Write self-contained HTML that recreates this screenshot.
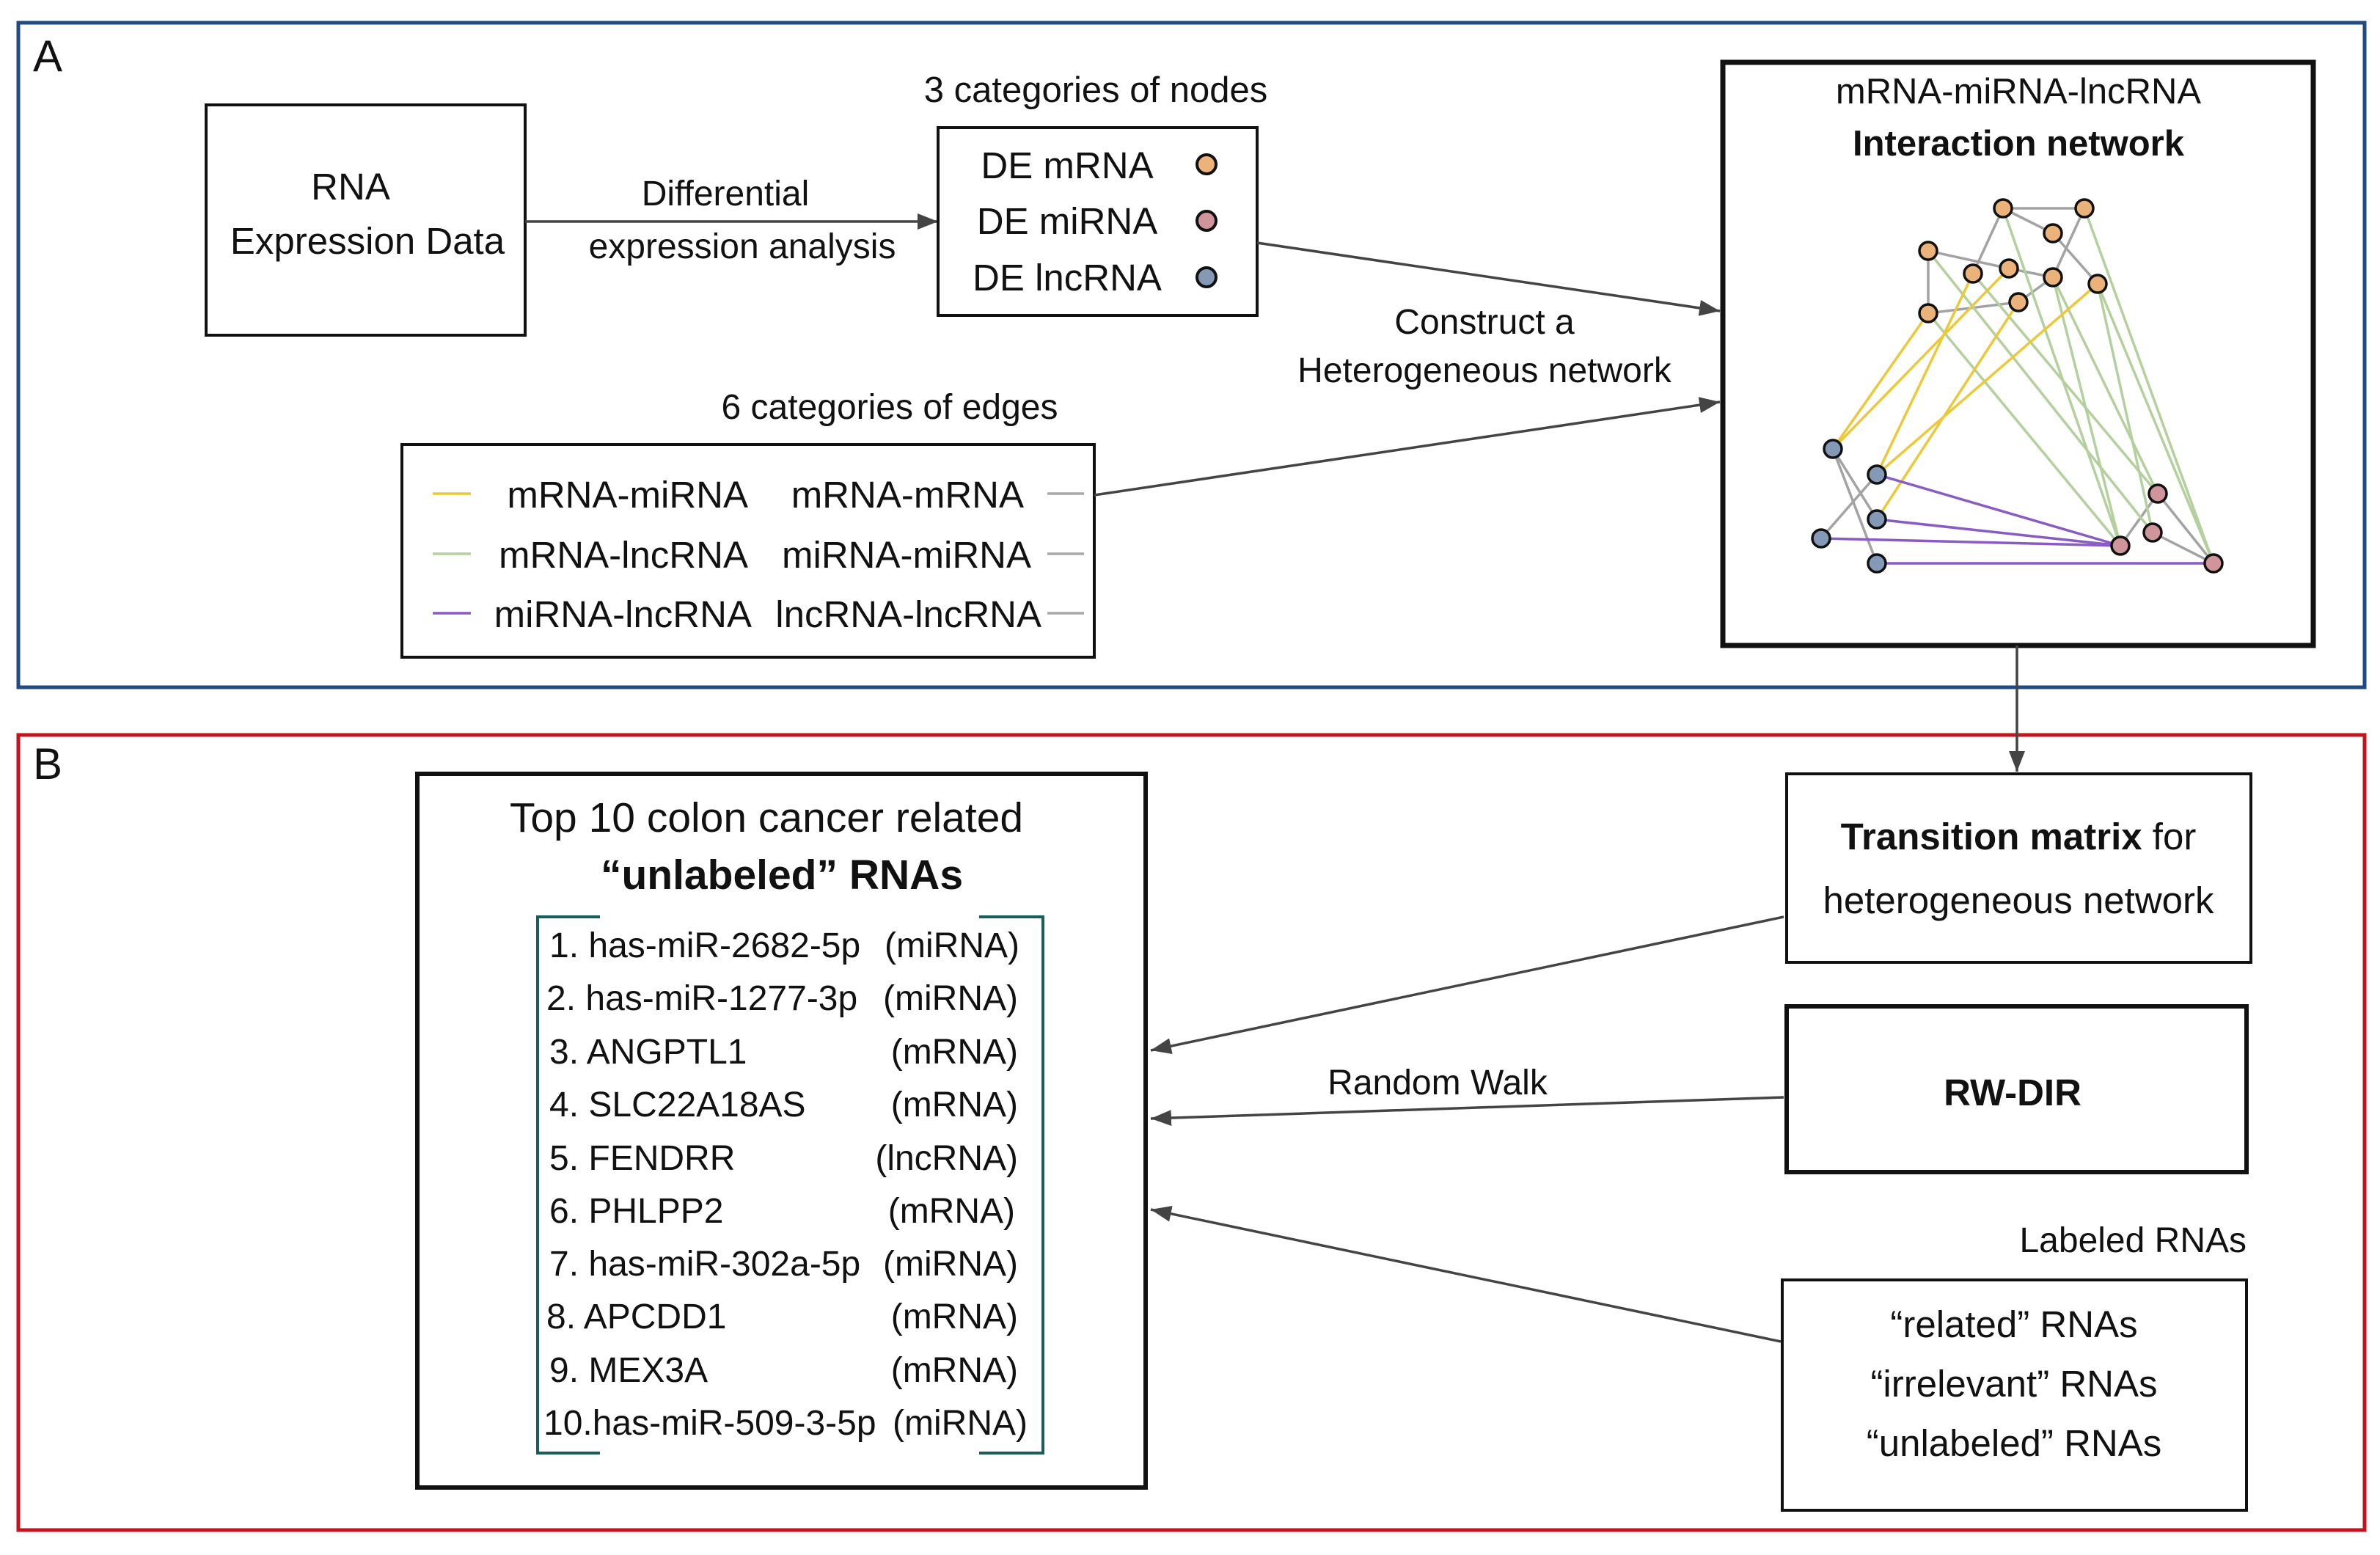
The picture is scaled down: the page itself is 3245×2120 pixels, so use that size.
<!DOCTYPE html>
<html><head><meta charset="utf-8"><style>
html,body{margin:0;padding:0;background:#fff;}
svg{display:block;}
text{font-family:"Liberation Sans",sans-serif;fill:#111;}
</style></head><body>
<svg width="3245" height="2120" viewBox="0 0 3245 2120" xmlns="http://www.w3.org/2000/svg">
<defs>
<marker id="a" viewBox="0 0 10 10" refX="10" refY="5" markerWidth="28" markerHeight="22" markerUnits="userSpaceOnUse" orient="auto" preserveAspectRatio="none"><path d="M0,0 L10,5 L0,10 z" fill="#444"/></marker>
</defs>
<rect x="25" y="31" width="3199" height="906" fill="none" stroke="#1f4a85" stroke-width="5"/>
<rect x="25" y="1002" width="3199" height="1084" fill="none" stroke="#c3141e" stroke-width="5"/>
<text x="45" y="97" font-size="60">A</text>
<text x="45" y="1062" font-size="60">B</text>

<rect x="281" y="143" width="435" height="314" fill="none" stroke="#111" stroke-width="4"/>
<text x="478" y="272" font-size="51" text-anchor="middle">RNA</text>
<text x="501" y="346" font-size="51" text-anchor="middle">Expression Data</text>
<line x1="716" y1="302" x2="1279" y2="302" stroke="#444" stroke-width="3.5" marker-end="url(#a)"/>
<text x="989" y="280" font-size="48" text-anchor="middle">Differential</text>
<text x="1012" y="352" font-size="48" text-anchor="middle">expression analysis</text>

<text x="1494" y="139" font-size="49" text-anchor="middle">3 categories of nodes</text>
<rect x="1279" y="174" width="435" height="256" fill="none" stroke="#111" stroke-width="4"/>
<text x="1455" y="243" font-size="51" text-anchor="middle">DE mRNA</text>
<text x="1455" y="319" font-size="51" text-anchor="middle">DE miRNA</text>
<text x="1455" y="396" font-size="51" text-anchor="middle">DE lncRNA</text>
<circle cx="1645" cy="224" r="13" fill="#ebb27a" stroke="#111" stroke-width="4"/>
<circle cx="1645" cy="301" r="13" fill="#cf959a" stroke="#111" stroke-width="4"/>
<circle cx="1645" cy="378" r="13" fill="#8499b6" stroke="#111" stroke-width="4"/>
<line x1="1714" y1="331" x2="2345" y2="424" stroke="#444" stroke-width="3.5" marker-end="url(#a)"/>
<text x="2024" y="455" font-size="48" text-anchor="middle">Construct a</text>
<text x="2024" y="521" font-size="48" text-anchor="middle">Heterogeneous network</text>

<text x="1213" y="571" font-size="48" text-anchor="middle">6 categories of edges</text>
<rect x="548" y="606" width="944" height="290" fill="none" stroke="#111" stroke-width="4"/>
<line x1="590" y1="673" x2="642" y2="673" stroke="#ecc93a" stroke-width="3.5"/>
<line x1="590" y1="755" x2="642" y2="755" stroke="#b3d09d" stroke-width="3.5"/>
<line x1="590" y1="836" x2="642" y2="836" stroke="#8a5bc4" stroke-width="3.5"/>
<text x="1020" y="692" font-size="51" text-anchor="end">mRNA-miRNA</text>
<text x="1020" y="774" font-size="51" text-anchor="end">mRNA-lncRNA</text>
<text x="1025" y="855" font-size="51" text-anchor="end">miRNA-lncRNA</text>
<text x="1396" y="692" font-size="51" text-anchor="end">mRNA-mRNA</text>
<text x="1406" y="774" font-size="51" text-anchor="end">miRNA-miRNA</text>
<text x="1420" y="855" font-size="51" text-anchor="end">lncRNA-lncRNA</text>
<line x1="1428" y1="673" x2="1478" y2="673" stroke="#a8a8a8" stroke-width="3.5"/>
<line x1="1428" y1="755" x2="1478" y2="755" stroke="#a8a8a8" stroke-width="3.5"/>
<line x1="1428" y1="836" x2="1478" y2="836" stroke="#a8a8a8" stroke-width="3.5"/>
<line x1="1492" y1="675" x2="2345" y2="548" stroke="#444" stroke-width="3.5" marker-end="url(#a)"/>

<rect x="2349" y="85" width="805" height="795" fill="none" stroke="#111" stroke-width="7"/>
<text x="2752" y="141" font-size="49" text-anchor="middle">mRNA-miRNA-lncRNA</text>
<text x="2752" y="212" font-size="49" text-anchor="middle" font-weight="bold">Interaction network</text>
<g stroke-width="3.5" fill="none">
<g stroke="#a3a3a3">
<line x1="2731" y1="284" x2="2842" y2="284"/><line x1="2731" y1="284" x2="2799" y2="318"/>
<line x1="2731" y1="284" x2="2690" y2="373"/><line x1="2842" y1="284" x2="2799" y2="378"/>
<line x1="2799" y1="318" x2="2860" y2="387"/><line x1="2629" y1="342" x2="2739" y2="366"/>
<line x1="2739" y1="366" x2="2799" y2="378"/><line x1="2629" y1="342" x2="2629" y2="427"/>
<line x1="2629" y1="427" x2="2752" y2="412"/><line x1="2752" y1="412" x2="2799" y2="378"/>
<line x1="2499" y1="612" x2="2559" y2="708"/><line x1="2499" y1="612" x2="2559" y2="768"/>
<line x1="2559" y1="647" x2="2483" y2="734"/><line x1="2942" y1="673" x2="2891" y2="744"/>
<line x1="2942" y1="673" x2="3018" y2="768"/><line x1="2935" y1="726" x2="3018" y2="768"/>
</g>
<g stroke="#b3d09d">
<line x1="2629" y1="342" x2="2935" y2="726"/><line x1="2690" y1="373" x2="2942" y2="673"/>
<line x1="2629" y1="427" x2="2891" y2="744"/><line x1="2731" y1="284" x2="2891" y2="744"/>
<line x1="2799" y1="378" x2="2942" y2="673"/><line x1="2799" y1="378" x2="2891" y2="744"/>
<line x1="2860" y1="387" x2="2935" y2="726"/><line x1="2860" y1="387" x2="3018" y2="768"/>
<line x1="2842" y1="284" x2="3018" y2="768"/>
</g>
<g stroke="#ecc93a">
<line x1="2629" y1="427" x2="2499" y2="612"/><line x1="2739" y1="366" x2="2499" y2="612"/>
<line x1="2690" y1="373" x2="2559" y2="647"/><line x1="2860" y1="387" x2="2559" y2="647"/>
<line x1="2752" y1="412" x2="2559" y2="708"/>
</g>
<g stroke="#8a5bc4">
<line x1="2559" y1="647" x2="2891" y2="744"/><line x1="2559" y1="708" x2="2891" y2="744"/>
<line x1="2483" y1="734" x2="2891" y2="744"/><line x1="2559" y1="768" x2="3018" y2="768"/>
</g>
</g>
<g stroke="#111" stroke-width="3.5">
<g fill="#ebb27a">
<circle cx="2731" cy="284" r="12"/><circle cx="2842" cy="284" r="12"/><circle cx="2799" cy="318" r="12"/>
<circle cx="2629" cy="342" r="12"/><circle cx="2690" cy="373" r="12"/><circle cx="2739" cy="366" r="12"/>
<circle cx="2799" cy="378" r="12"/><circle cx="2860" cy="387" r="12"/><circle cx="2752" cy="412" r="12"/>
<circle cx="2629" cy="427" r="12"/>
</g>
<g fill="#8499b6">
<circle cx="2499" cy="612" r="12"/><circle cx="2559" cy="647" r="12"/><circle cx="2559" cy="708" r="12"/>
<circle cx="2483" cy="734" r="12"/><circle cx="2559" cy="768" r="12"/>
</g>
<g fill="#cf959a">
<circle cx="2942" cy="673" r="12"/><circle cx="2935" cy="726" r="12"/><circle cx="2891" cy="744" r="12"/>
<circle cx="3018" cy="768" r="12"/>
</g>
</g>
<line x1="2750" y1="880" x2="2750" y2="1052" stroke="#444" stroke-width="3.5" marker-end="url(#a)"/>

<rect x="569" y="1055" width="993" height="973" fill="none" stroke="#111" stroke-width="6"/>
<text x="1045" y="1134" font-size="57" text-anchor="middle">Top 10 colon cancer related</text>
<text x="1066" y="1212" font-size="57" text-anchor="middle" font-weight="bold">“unlabeled” RNAs</text>
<g stroke="#1a5e5a" stroke-width="4" fill="none">
<polyline points="818,1250 733,1250 733,1981 818,1981"/>
<polyline points="1335,1250 1422,1250 1422,1981 1335,1981"/>
</g>
<g font-size="48">
<text x="749" y="1305">1. has-miR-2682-5p</text><text x="1390" y="1305" text-anchor="end">(miRNA)</text>
<text x="745" y="1377">2. has-miR-1277-3p</text><text x="1388" y="1377" text-anchor="end">(miRNA)</text>
<text x="749" y="1450">3. ANGPTL1</text><text x="1388" y="1450" text-anchor="end">(mRNA)</text>
<text x="749" y="1522">4. SLC22A18AS</text><text x="1388" y="1522" text-anchor="end">(mRNA)</text>
<text x="749" y="1595">5. FENDRR</text><text x="1388" y="1595" text-anchor="end">(lncRNA)</text>
<text x="749" y="1667">6. PHLPP2</text><text x="1384" y="1667" text-anchor="end">(mRNA)</text>
<text x="749" y="1739">7. has-miR-302a-5p</text><text x="1388" y="1739" text-anchor="end">(miRNA)</text>
<text x="745" y="1811">8. APCDD1</text><text x="1388" y="1811" text-anchor="end">(mRNA)</text>
<text x="749" y="1884">9. MEX3A</text><text x="1388" y="1884" text-anchor="end">(mRNA)</text>
<text x="741" y="1956">10.has-miR-509-3-5p</text><text x="1401" y="1956" text-anchor="end">(miRNA)</text>
</g>

<rect x="2436" y="1055" width="633" height="257" fill="none" stroke="#111" stroke-width="4"/>
<text x="2752" y="1158" font-size="51" text-anchor="middle"><tspan font-weight="bold">Transition matrix</tspan> for</text>
<text x="2752" y="1245" font-size="51" text-anchor="middle">heterogeneous network</text>
<rect x="2436" y="1372" width="627" height="226" fill="none" stroke="#111" stroke-width="6"/>
<text x="2744" y="1507" font-size="51" text-anchor="middle" font-weight="bold">RW-DIR</text>
<text x="3063" y="1707" font-size="48" text-anchor="end">Labeled RNAs</text>
<rect x="2430" y="1745" width="633" height="314" fill="none" stroke="#111" stroke-width="4"/>
<text x="2746" y="1823" font-size="51" text-anchor="middle">“related” RNAs</text>
<text x="2746" y="1904" font-size="51" text-anchor="middle">“irrelevant” RNAs</text>
<text x="2746" y="1985" font-size="51" text-anchor="middle">“unlabeled” RNAs</text>
<line x1="2432" y1="1250" x2="1569" y2="1432" stroke="#444" stroke-width="3.5" marker-end="url(#a)"/>
<line x1="2432" y1="1496" x2="1569" y2="1525" stroke="#444" stroke-width="3.5" marker-end="url(#a)"/>
<text x="1960" y="1492" font-size="48" text-anchor="middle">Random Walk</text>
<line x1="2428" y1="1829" x2="1569" y2="1649" stroke="#444" stroke-width="3.5" marker-end="url(#a)"/>
</svg>
</body></html>
